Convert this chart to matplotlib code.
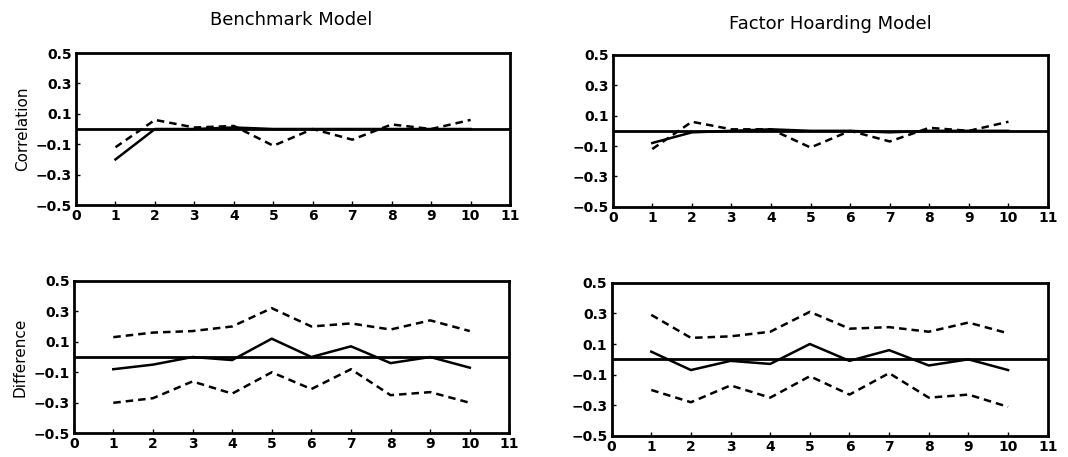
import matplotlib
matplotlib.use("Agg")
import matplotlib.pyplot as plt
import numpy as np

lags = [1, 2, 3, 4, 5, 6, 7, 8, 9, 10]

# Top panels: correlations
bench_corr_solid = [-0.20, 0.00, 0.00, 0.01, 0.00, 0.00, 0.00, 0.00, 0.00, 0.00]
bench_corr_dash = [-0.12, 0.06, 0.01, 0.02, -0.11, 0.00, -0.07, 0.03, 0.00, 0.06]
hoard_corr_solid = [-0.08, -0.01, 0.00, 0.01, 0.00, 0.00, -0.01, 0.00, 0.00, 0.00]
hoard_corr_dash = [-0.12, 0.06, 0.01, 0.01, -0.11, 0.00, -0.07, 0.02, 0.00, 0.06]

# Bottom panels: differences with bands
bench_diff = [-0.08, -0.05, 0.00, -0.02, 0.12, 0.00, 0.07, -0.04, 0.00, -0.07]
bench_upper = [0.13, 0.16, 0.17, 0.20, 0.32, 0.20, 0.22, 0.18, 0.24, 0.17]
bench_lower = [-0.30, -0.27, -0.16, -0.24, -0.10, -0.21, -0.08, -0.25, -0.23, -0.30]
hoard_diff = [0.05, -0.07, -0.01, -0.03, 0.10, -0.01, 0.06, -0.04, 0.00, -0.07]
hoard_upper = [0.29, 0.14, 0.15, 0.18, 0.31, 0.20, 0.21, 0.18, 0.24, 0.17]
hoard_lower = [-0.20, -0.28, -0.17, -0.25, -0.11, -0.23, -0.09, -0.25, -0.23, -0.31]

titles = ["Benchmark Model", "Factor Hoarding Model"]
ylabels = ["Correlation", "Difference"]
yticks = [0.5, 0.3, 0.1, -0.1, -0.3, -0.5]
ytick_labels = ["0.5", "0.3", "0.1", "\u22120.1", "\u22120.3", "\u22120.5"]
xticks = list(range(0, 12))

fig = plt.figure(figsize=(10.68, 4.57), dpi=100)

positions = {
    "tl": [0.0712, 0.5514, 0.4064, 0.3326],
    "tr": [0.5737, 0.5477, 0.4076, 0.3320],
    "bl": [0.0690, 0.0518, 0.4080, 0.3340],
    "br": [0.5727, 0.0460, 0.4083, 0.3354],
}

dash = (0, (3, 2))

def style(ax):
    ax.set_xlim(0, 11)
    ax.set_ylim(-0.5, 0.5)
    ax.set_xticks(xticks)
    ax.set_xticklabels([str(t) for t in xticks], fontsize=10, fontweight="bold")
    ax.set_yticks(yticks)
    ax.set_yticklabels(ytick_labels, fontsize=10, fontweight="bold")
    ax.tick_params(axis="both", direction="in", length=3, width=1, pad=3)
    for s in ax.spines.values():
        s.set_linewidth(2)
    ax.axhline(0, color="black", lw=2)

ax = fig.add_axes(positions["tl"])
style(ax)
ax.plot(lags, bench_corr_solid, color="black", lw=1.8)
ax.plot(lags, bench_corr_dash, color="black", lw=1.8, linestyle=dash)
ax.set_ylabel(ylabels[0], fontsize=11)

ax = fig.add_axes(positions["tr"])
style(ax)
ax.plot(lags, hoard_corr_solid, color="black", lw=1.8)
ax.plot(lags, hoard_corr_dash, color="black", lw=1.8, linestyle=dash)

ax = fig.add_axes(positions["bl"])
style(ax)
ax.plot(lags, bench_diff, color="black", lw=1.8)
ax.plot(lags, bench_upper, color="black", lw=1.8, linestyle=dash)
ax.plot(lags, bench_lower, color="black", lw=1.8, linestyle=dash)
ax.set_ylabel(ylabels[1], fontsize=11)

ax = fig.add_axes(positions["br"])
style(ax)
ax.plot(lags, hoard_diff, color="black", lw=1.8)
ax.plot(lags, hoard_upper, color="black", lw=1.8, linestyle=dash)
ax.plot(lags, hoard_lower, color="black", lw=1.8, linestyle=dash)

fig.text(291 / 1068, 1 - 20 / 457, titles[0], fontsize=13, ha="center", va="center")
fig.text(830 / 1068, 1 - 24 / 457, titles[1], fontsize=13, ha="center", va="center")

fig.savefig("out.png", dpi=100)
